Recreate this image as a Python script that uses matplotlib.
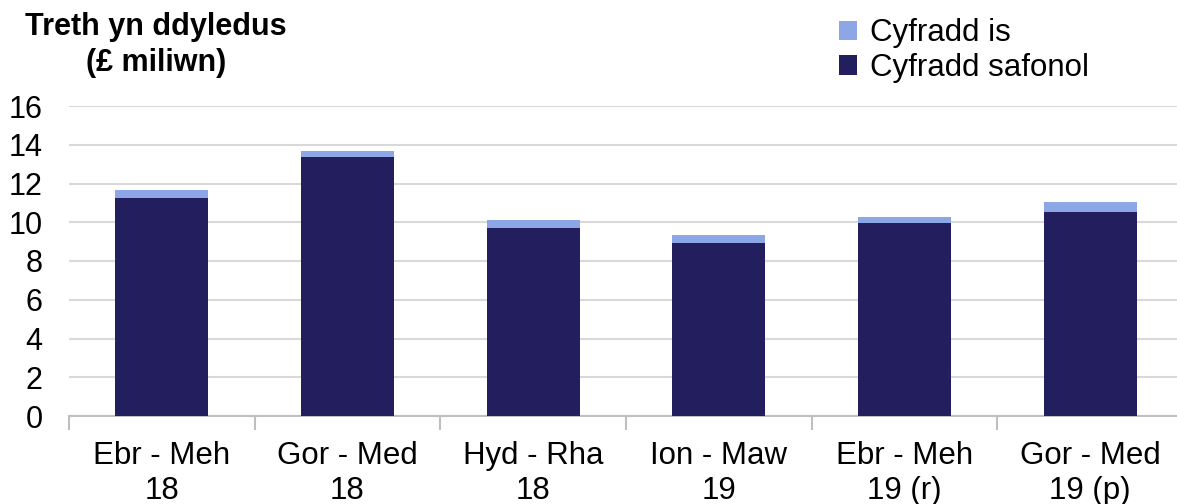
import matplotlib
matplotlib.use("Agg")
import matplotlib.pyplot as plt
import numpy as np

plt.rcParams['font.family'] = ['Liberation Sans', 'DejaVu Sans']

categories = ["Ebr - Meh\n18", "Gor - Med\n18", "Hyd - Rha\n18",
              "Ion - Maw\n19", "Ebr - Meh\n19 (r)", "Gor - Med\n19 (p)"]
standard_rate = [11.25, 13.35, 9.7, 8.95, 9.98, 10.55]
reduced_rate = [0.4, 0.32, 0.4, 0.38, 0.3, 0.5]

dark = "#231f5e"
light = "#8ca6e6"

fig = plt.figure(figsize=(11.77, 5.04), dpi=100)
ax = fig.add_axes([69 / 1177, 1 - 416 / 504, 1114 / 1177, 310 / 504])

x = np.arange(len(categories))
ax.bar(x, standard_rate, width=0.5, color=dark, label="Cyfradd safonol", zorder=3)
ax.bar(x, reduced_rate, width=0.5, bottom=standard_rate, color=light,
       label="Cyfradd is", zorder=3)

ax.set_xlim(-0.5, len(categories) - 0.5)
ax.set_ylim(0, 16)
ax.set_yticks(np.arange(0, 17, 2))
ax.yaxis.grid(True, color="#d9d9d9", linewidth=1.5, zorder=0)
ax.tick_params(axis='y', length=0, pad=19, labelsize=22)

ax.set_xticks(x)
ax.set_xticklabels(categories, fontsize=22.5, linespacing=1.2)
ax.set_xticks(np.arange(-0.5, len(categories)), minor=True)
ax.tick_params(axis='x', which='major', length=0, pad=18)
ax.tick_params(axis='x', which='minor', length=10, width=1.5, color="#bfbfbf")

for s in ['top', 'right', 'left']:
    ax.spines[s].set_visible(False)
ax.spines['bottom'].set_color("#bfbfbf")
ax.spines['bottom'].set_linewidth(1.5)

fig.text(156 / 1177, 1 - 45 / 504, "Treth yn ddyledus\n(£ miliwn)", ha='center',
         va='center', fontsize=22, fontweight='bold', linespacing=1.3)

handles, labels = ax.get_legend_handles_labels()
fig.legend(handles[::-1], labels[::-1], loc='upper left',
           bbox_to_anchor=(826 / 1177, 1 - 6 / 504), frameon=False, fontsize=22.5,
           handlelength=0.6, handleheight=0.6, handletextpad=0.4,
           labelspacing=0.15, borderaxespad=0)

fig.savefig("out.png", dpi=100)
